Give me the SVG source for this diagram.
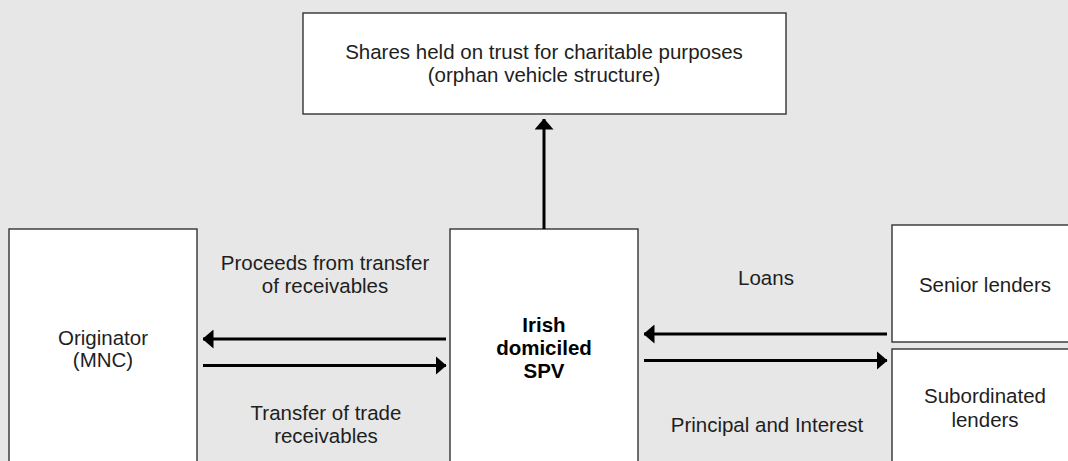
<svg xmlns="http://www.w3.org/2000/svg" width="1068" height="461" viewBox="0 0 1068 461">
  <style>
    .box { fill: #ffffff; stroke: #333333; stroke-width: 1.4; }
    .lbl { font-family: "Liberation Sans", Arial, sans-serif; font-size: 20.5px; fill: #1e1e1e; text-anchor: middle; }
    .bold { font-weight: bold; fill: #000000; }
    .flow { stroke: #000000; stroke-width: 3; fill: none; marker-end: url(#head); }
  </style>
  <defs>
    <marker id="head" viewBox="0 0 11 19" refX="10.5" refY="9.5" markerWidth="11" markerHeight="19" markerUnits="userSpaceOnUse" orient="auto">
      <path d="M0,0 L11,9.5 L0,19 Z" fill="#000000"/>
    </marker>
  </defs>
  <rect x="0" y="0" width="1068" height="461" fill="#e6e7e6"/>

  <g id="trust">
    <rect class="box" x="303" y="13" width="483" height="101"/>
    <text class="lbl" x="544" y="59">Shares held on trust for charitable purposes</text>
    <text class="lbl" x="544" y="82">(orphan vehicle structure)</text>
  </g>

  <g id="originator">
    <rect class="box" x="9" y="229" width="188" height="240"/>
    <text class="lbl" x="103" y="345">Originator</text>
    <text class="lbl" x="103" y="367">(MNC)</text>
  </g>

  <g id="spv">
    <rect class="box" x="450" y="229" width="188" height="240"/>
    <text class="lbl bold" x="544" y="332">Irish</text>
    <text class="lbl bold" x="544" y="355">domiciled</text>
    <text class="lbl bold" x="544" y="378">SPV</text>
  </g>

  <g id="senior">
    <rect class="box" x="892" y="225" width="190" height="117"/>
    <text class="lbl" x="985" y="292">Senior lenders</text>
  </g>

  <g id="subordinated">
    <rect class="box" x="892" y="349" width="190" height="120"/>
    <text class="lbl" x="985" y="403">Subordinated</text>
    <text class="lbl" x="985" y="427">lenders</text>
  </g>

  <g id="connectors">
    <line class="flow" x1="544" y1="229" x2="544" y2="119"/>
    <line class="flow" x1="446" y1="339" x2="203" y2="339"/>
    <line class="flow" x1="203" y1="365.5" x2="446" y2="365.5"/>
    <line class="flow" x1="887" y1="334" x2="644" y2="334"/>
    <line class="flow" x1="644" y1="360.5" x2="887" y2="360.5"/>
  </g>

  <g id="flow-labels">
    <text class="lbl" x="325" y="270">Proceeds from transfer</text>
    <text class="lbl" x="325" y="293">of receivables</text>
    <text class="lbl" x="326" y="420">Transfer of trade</text>
    <text class="lbl" x="326" y="443">receivables</text>
    <text class="lbl" x="766" y="285">Loans</text>
    <text class="lbl" x="767" y="432">Principal and Interest</text>
  </g>
</svg>
